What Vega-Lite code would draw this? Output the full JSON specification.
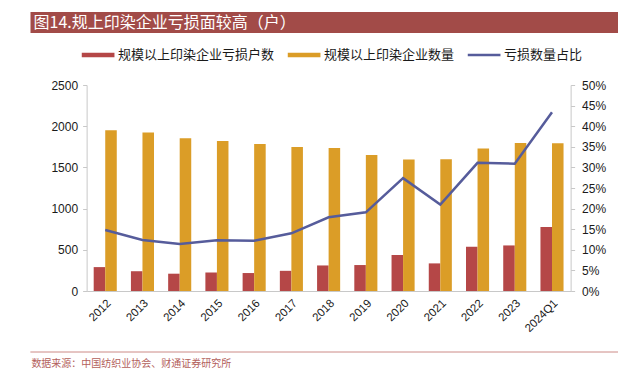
{
  "$schema": "https://vega.github.io/schema/vega-lite/v6.json",
  "padding": {"left": 29, "top": 12, "right": 0, "bottom": 0},
  "background": "white",
  "config": {"view": {"stroke": null}, "font": "Liberation Sans"},
  "spacing": 15,
  "center": true,
  "resolve": {"scale": {"color": "independent"}, "legend": {"color": "independent"}},
  "vconcat": [
    {
      "width": 631,
      "height": 21,
      "view": {"fill": "#A24B48", "stroke": null},
      "data": {"values": [{"t": "图14.规上印染企业亏损面较高（户）"}]},
      "mark": {"type": "text", "align": "left", "baseline": "middle", "dx": 3, "color": "white", "fontSize": 16, "font": "Noto Sans CJK SC"},
      "encoding": {
        "text": {"field": "t"},
        "x": {"datum": 0, "type": "quantitative", "scale": {"domain": [0, 1]}, "axis": null},
        "y": {"datum": 0.5, "type": "quantitative", "scale": {"domain": [0, 1]}, "axis": null}
      }
    },
    {
      "spacing": 16,
      "center": true,
      "resolve": {"scale": {"color": "independent"}, "legend": {"color": "independent"}},
      "vconcat": [
        {
          "width": 484,
          "height": 206,
          "data": {
            "values": [
              {"year": "2012", "规模以上印染企业亏损户数": 290, "规模以上印染企业数量": 1950, "亏损数量占比": 0.148},
              {"year": "2013", "规模以上印染企业亏损户数": 240, "规模以上印染企业数量": 1925, "亏损数量占比": 0.124},
              {"year": "2014", "规模以上印染企业亏损户数": 210, "规模以上印染企业数量": 1855, "亏损数量占比": 0.114},
              {"year": "2015", "规模以上印染企业亏损户数": 225, "规模以上印染企业数量": 1820, "亏损数量占比": 0.123},
              {"year": "2016", "规模以上印染企业亏损户数": 218, "规模以上印染企业数量": 1784, "亏损数量占比": 0.122},
              {"year": "2017", "规模以上印染企业亏损户数": 245, "规模以上印染企业数量": 1748, "亏损数量占比": 0.140},
              {"year": "2018", "规模以上印染企业亏损户数": 310, "规模以上印染企业数量": 1735, "亏损数量占比": 0.179},
              {"year": "2019", "规模以上印染企业亏损户数": 315, "规模以上印染企业数量": 1650, "亏损数量占比": 0.191},
              {"year": "2020", "规模以上印染企业亏损户数": 437, "规模以上印染企业数量": 1595, "亏损数量占比": 0.274},
              {"year": "2021", "规模以上印染企业亏损户数": 335, "规模以上印染企业数量": 1598, "亏损数量占比": 0.210},
              {"year": "2022", "规模以上印染企业亏损户数": 537, "规模以上印染企业数量": 1728, "亏损数量占比": 0.311},
              {"year": "2023", "规模以上印染企业亏损户数": 553, "规模以上印染企业数量": 1795, "亏损数量占比": 0.309},
              {"year": "2024Q1", "规模以上印染企业亏损户数": 777, "规模以上印染企业数量": 1792, "亏损数量占比": 0.434}
            ]
          },
          "encoding": {
            "x": {
              "field": "year", "type": "nominal", "sort": null,
              "scale": {"paddingInner": 0.38, "paddingOuter": 0.19},
              "axis": {"title": null, "labelAngle": -45, "labelFontSize": 11.5, "labelColor": "#1a1a1a", "ticks": false, "domainColor": "#C8C8C8", "labelPadding": 6}
            }
          },
          "layer": [
            {
              "transform": [{"fold": ["规模以上印染企业亏损户数", "规模以上印染企业数量"], "as": ["series", "value"]}],
              "mark": {"type": "bar"},
              "encoding": {
                "xOffset": {"field": "series", "type": "nominal", "sort": ["规模以上印染企业亏损户数", "规模以上印染企业数量"], "scale": {"paddingInner": 0, "paddingOuter": 0}},
                "y": {
                  "field": "value", "type": "quantitative",
                  "scale": {"domain": [0, 2500], "nice": false},
                  "axis": {"orient": "left", "format": "d", "values": [0, 500, 1000, 1500, 2000, 2500], "title": "户", "titleOpacity": 0, "titleFontSize": 12, "titlePadding": 8, "grid": false, "domainColor": "#C8C8C8", "tickColor": "#C8C8C8", "tickSize": 4, "labelPadding": 5, "labelFontSize": 12, "labelColor": "#1a1a1a"}
                },
                "color": {
                  "field": "series", "type": "nominal",
                  "scale": {"domain": ["规模以上印染企业亏损户数", "规模以上印染企业数量", "亏损数量占比"], "range": ["#B54747", "#DB9D27", "#565C9B"]},
                  "legend": {
                    "orient": "none", "legendX": 4.5, "legendY": -37, "direction": "horizontal", "title": null,
                    "symbolType": "M-2.6,-0.25H2.6V0.25H-2.6Z", "symbolSize": 144,
                    "labelFont": "Noto Sans CJK SC", "labelFontSize": 13, "labelColor": "#1a1a1a", "labelOffset": 13, "labelLimit": 300,
                    "columnPadding": 10, "padding": 0,
                    "encoding": {
                      "symbols": {
                        "shape": {"condition": {"test": "datum.value === '亏损数量占比'", "value": "M-2.6,-0.1H2.6V0.1H-2.6Z"}, "value": "M-2.6,-0.25H2.6V0.25H-2.6Z"}
                      }
                    }
                  }
                }
              }
            },
            {
              "mark": {"type": "line", "strokeWidth": 2.5},
              "encoding": {
                "y": {
                  "field": "亏损数量占比", "type": "quantitative",
                  "scale": {"domain": [0, 0.5], "nice": false},
                  "axis": {"orient": "right", "format": ".0%", "values": [0, 0.05, 0.1, 0.15, 0.2, 0.25, 0.3, 0.35, 0.4, 0.45, 0.5], "title": null, "grid": false, "domainColor": "#C8C8C8", "tickColor": "#C8C8C8", "tickSize": 4, "labelPadding": 7, "labelFontSize": 12, "labelColor": "#1a1a1a"}
                },
                "color": {"datum": "亏损数量占比", "type": "nominal"}
              }
            }
          ],
          "resolve": {"scale": {"y": "independent"}}
        },
        {
          "width": 631,
          "height": 1,
          "view": {"stroke": null},
          "data": {"values": [{"t": "数据来源：中国纺织业协会、财通证券研究所"}]},
          "layer": [
            {
              "mark": {"type": "rule", "color": "#CC8A86", "strokeWidth": 1},
              "encoding": {
                "y": {"datum": 1, "type": "quantitative", "scale": {"domain": [0, 1]}, "axis": null}
              }
            },
            {
              "mark": {"type": "text", "align": "left", "baseline": "top", "dx": 1, "dy": 7, "fontSize": 10, "color": "#B3605B", "font": "Noto Sans CJK SC"},
              "encoding": {
                "text": {"field": "t"},
                "x": {"datum": 0, "type": "quantitative", "scale": {"domain": [0, 1]}, "axis": null},
                "y": {"datum": 1, "type": "quantitative", "scale": {"domain": [0, 1]}, "axis": null}
              }
            }
          ]
        }
      ]
    }
  ]
}
